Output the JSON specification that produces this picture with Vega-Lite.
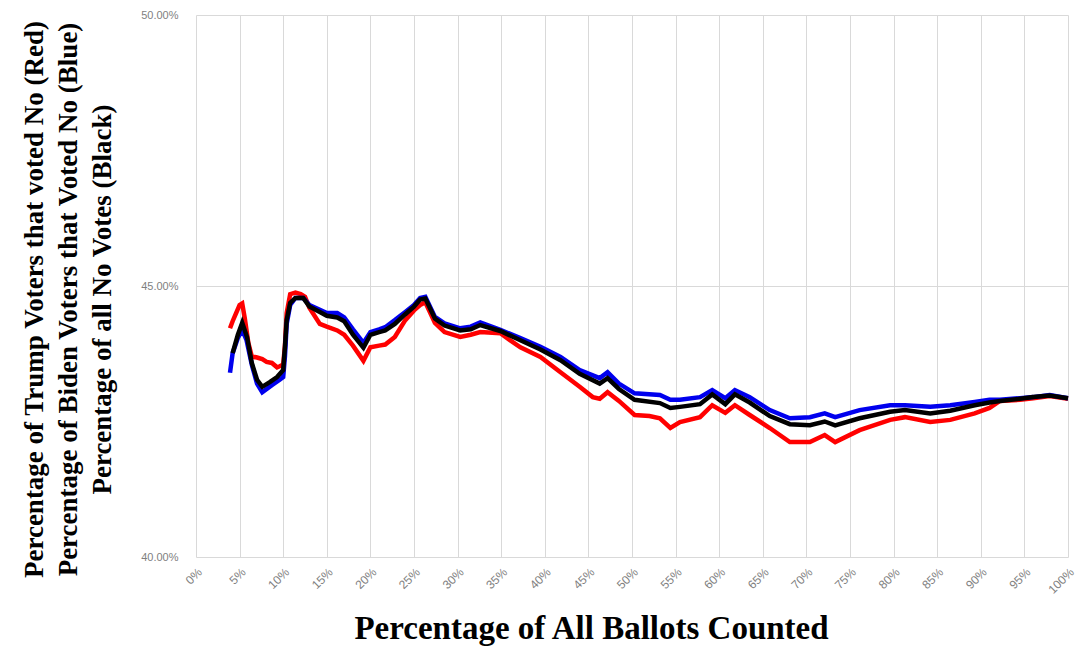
{
  "$schema": "https://vega.github.io/schema/vega-lite/v6.json",
  "width": 872,
  "height": 542,
  "autosize": {"type": "none"},
  "padding": {"left": 196, "top": 15, "right": 22, "bottom": 89},
  "background": "white",
  "config": {"view": {"stroke": null}},
  "datasets": {
    "pts": [
      {"s":"R","x":3.9,"v":44.22},{"s":"R","x":4.2,"v":44.35},{"s":"R","x":4.6,"v":44.5},{"s":"R","x":5.0,"v":44.65},{"s":"R","x":5.3,"v":44.68},{"s":"R","x":5.6,"v":44.4},{"s":"R","x":6.0,"v":43.95},{"s":"R","x":6.4,"v":43.7},{"s":"R","x":7.0,"v":43.68},{"s":"R","x":7.6,"v":43.65},{"s":"R","x":8.1,"v":43.6},{"s":"R","x":8.7,"v":43.58},{"s":"R","x":9.3,"v":43.5},{"s":"R","x":9.6,"v":43.52},{"s":"R","x":10.0,"v":43.55},{"s":"R","x":10.2,"v":43.9},{"s":"R","x":10.4,"v":44.5},{"s":"R","x":10.8,"v":44.85},{"s":"R","x":11.4,"v":44.88},{"s":"R","x":12.0,"v":44.85},{"s":"R","x":12.5,"v":44.8},{"s":"R","x":13.0,"v":44.6},{"s":"R","x":14.2,"v":44.3},{"s":"R","x":15,"v":44.25},{"s":"R","x":16.2,"v":44.18},{"s":"R","x":17,"v":44.1},{"s":"R","x":18,"v":43.9},{"s":"R","x":19.2,"v":43.62},{"s":"R","x":20,"v":43.87},{"s":"R","x":21,"v":43.9},{"s":"R","x":21.7,"v":43.92},{"s":"R","x":22.8,"v":44.06},{"s":"R","x":24,"v":44.37},{"s":"R","x":25,"v":44.55},{"s":"R","x":25.7,"v":44.65},{"s":"R","x":26.3,"v":44.7},{"s":"R","x":27.4,"v":44.32},{"s":"R","x":28.5,"v":44.15},{"s":"R","x":30.3,"v":44.06},{"s":"R","x":31.5,"v":44.1},{"s":"R","x":32.6,"v":44.15},{"s":"R","x":34.9,"v":44.13},{"s":"R","x":36,"v":44.0},{"s":"R","x":37.2,"v":43.87},{"s":"R","x":39.5,"v":43.69},{"s":"R","x":41.8,"v":43.41},{"s":"R","x":44,"v":43.14},{"s":"R","x":45.5,"v":42.95},{"s":"R","x":46.3,"v":42.92},{"s":"R","x":47.2,"v":43.04},{"s":"R","x":48.5,"v":42.88},{"s":"R","x":50.3,"v":42.62},{"s":"R","x":52,"v":42.6},{"s":"R","x":53.2,"v":42.56},{"s":"R","x":54.4,"v":42.38},{"s":"R","x":55.5,"v":42.49},{"s":"R","x":57.8,"v":42.58},{"s":"R","x":59.2,"v":42.8},{"s":"R","x":60.7,"v":42.66},{"s":"R","x":61.8,"v":42.8},{"s":"R","x":63.5,"v":42.62},{"s":"R","x":65.8,"v":42.38},{"s":"R","x":68.1,"v":42.12},{"s":"R","x":70.4,"v":42.12},{"s":"R","x":72.1,"v":42.25},{"s":"R","x":73.3,"v":42.12},{"s":"R","x":76.1,"v":42.34},{"s":"R","x":79.6,"v":42.53},{"s":"R","x":81.3,"v":42.58},{"s":"R","x":84.2,"v":42.49},{"s":"R","x":86.5,"v":42.53},{"s":"R","x":89.3,"v":42.65},{"s":"R","x":91,"v":42.75},{"s":"R","x":92.2,"v":42.88},{"s":"R","x":94.5,"v":42.9},{"s":"R","x":96,"v":42.93},{"s":"R","x":97.9,"v":42.97},{"s":"R","x":100,"v":42.92},

      {"s":"B","x":3.9,"v":43.4},{"s":"B","x":4.2,"v":43.76},{"s":"B","x":4.8,"v":44.04},{"s":"B","x":5.3,"v":44.19},{"s":"B","x":5.8,"v":44.0},{"s":"B","x":6.4,"v":43.55},{"s":"B","x":7.0,"v":43.2},{"s":"B","x":7.6,"v":43.04},{"s":"B","x":8.7,"v":43.17},{"s":"B","x":9.6,"v":43.27},{"s":"B","x":10.0,"v":43.32},{"s":"B","x":10.2,"v":43.7},{"s":"B","x":10.4,"v":44.3},{"s":"B","x":10.8,"v":44.65},{"s":"B","x":11.4,"v":44.78},{"s":"B","x":12.3,"v":44.78},{"s":"B","x":13,"v":44.65},{"s":"B","x":14.2,"v":44.56},{"s":"B","x":15,"v":44.5},{"s":"B","x":16.2,"v":44.5},{"s":"B","x":17,"v":44.42},{"s":"B","x":18,"v":44.2},{"s":"B","x":19.2,"v":43.95},{"s":"B","x":20,"v":44.15},{"s":"B","x":21,"v":44.2},{"s":"B","x":21.7,"v":44.24},{"s":"B","x":22.8,"v":44.37},{"s":"B","x":24,"v":44.52},{"s":"B","x":25,"v":44.65},{"s":"B","x":25.7,"v":44.78},{"s":"B","x":26.3,"v":44.8},{"s":"B","x":27.4,"v":44.43},{"s":"B","x":28.5,"v":44.31},{"s":"B","x":30.3,"v":44.22},{"s":"B","x":31.5,"v":44.25},{"s":"B","x":32.6,"v":44.33},{"s":"B","x":34.9,"v":44.19},{"s":"B","x":37.2,"v":44.04},{"s":"B","x":39.5,"v":43.88},{"s":"B","x":41.8,"v":43.69},{"s":"B","x":44,"v":43.45},{"s":"B","x":46.3,"v":43.3},{"s":"B","x":47.2,"v":43.41},{"s":"B","x":48.5,"v":43.2},{"s":"B","x":50.3,"v":43.02},{"s":"B","x":53.2,"v":42.99},{"s":"B","x":54.4,"v":42.9},{"s":"B","x":55.5,"v":42.9},{"s":"B","x":57.8,"v":42.95},{"s":"B","x":59.2,"v":43.08},{"s":"B","x":60.7,"v":42.93},{"s":"B","x":61.8,"v":43.08},{"s":"B","x":63.5,"v":42.95},{"s":"B","x":65.8,"v":42.71},{"s":"B","x":68.1,"v":42.56},{"s":"B","x":70.4,"v":42.58},{"s":"B","x":72.1,"v":42.65},{"s":"B","x":73.3,"v":42.58},{"s":"B","x":76.1,"v":42.71},{"s":"B","x":79.6,"v":42.8},{"s":"B","x":81.3,"v":42.8},{"s":"B","x":84.2,"v":42.77},{"s":"B","x":86.5,"v":42.8},{"s":"B","x":89.3,"v":42.86},{"s":"B","x":91,"v":42.9},{"s":"B","x":92.2,"v":42.9},{"s":"B","x":94.5,"v":42.93},{"s":"B","x":96,"v":42.95},{"s":"B","x":97.9,"v":42.99},{"s":"B","x":100,"v":42.93},

      {"s":"K","x":4.2,"v":43.76},{"s":"K","x":4.8,"v":44.1},{"s":"K","x":5.3,"v":44.32},{"s":"K","x":5.85,"v":44.06},{"s":"K","x":6.4,"v":43.58},{"s":"K","x":7.0,"v":43.27},{"s":"K","x":7.6,"v":43.14},{"s":"K","x":8.5,"v":43.23},{"s":"K","x":9.3,"v":43.32},{"s":"K","x":10.0,"v":43.45},{"s":"K","x":10.2,"v":43.87},{"s":"K","x":10.4,"v":44.37},{"s":"K","x":10.8,"v":44.69},{"s":"K","x":11.4,"v":44.78},{"s":"K","x":12.3,"v":44.78},{"s":"K","x":13,"v":44.62},{"s":"K","x":14.2,"v":44.52},{"s":"K","x":15,"v":44.45},{"s":"K","x":16.2,"v":44.42},{"s":"K","x":17,"v":44.35},{"s":"K","x":18,"v":44.1},{"s":"K","x":19.2,"v":43.86},{"s":"K","x":20,"v":44.1},{"s":"K","x":21,"v":44.15},{"s":"K","x":21.7,"v":44.18},{"s":"K","x":22.8,"v":44.3},{"s":"K","x":24,"v":44.48},{"s":"K","x":25,"v":44.62},{"s":"K","x":25.7,"v":44.75},{"s":"K","x":26.3,"v":44.77},{"s":"K","x":27.4,"v":44.4},{"s":"K","x":28.5,"v":44.27},{"s":"K","x":30.3,"v":44.18},{"s":"K","x":31.5,"v":44.2},{"s":"K","x":32.6,"v":44.28},{"s":"K","x":34.9,"v":44.17},{"s":"K","x":37.2,"v":44.0},{"s":"K","x":39.5,"v":43.83},{"s":"K","x":41.8,"v":43.63},{"s":"K","x":44,"v":43.38},{"s":"K","x":46.3,"v":43.2},{"s":"K","x":47.2,"v":43.3},{"s":"K","x":48.5,"v":43.1},{"s":"K","x":50.3,"v":42.9},{"s":"K","x":53.2,"v":42.84},{"s":"K","x":54.4,"v":42.75},{"s":"K","x":55.5,"v":42.77},{"s":"K","x":57.8,"v":42.82},{"s":"K","x":59.2,"v":43.0},{"s":"K","x":60.7,"v":42.82},{"s":"K","x":61.8,"v":43.0},{"s":"K","x":63.5,"v":42.85},{"s":"K","x":65.8,"v":42.6},{"s":"K","x":68.1,"v":42.45},{"s":"K","x":70.4,"v":42.43},{"s":"K","x":72.1,"v":42.5},{"s":"K","x":73.3,"v":42.43},{"s":"K","x":76.1,"v":42.56},{"s":"K","x":79.6,"v":42.68},{"s":"K","x":81.3,"v":42.71},{"s":"K","x":84.2,"v":42.65},{"s":"K","x":86.5,"v":42.7},{"s":"K","x":89.3,"v":42.8},{"s":"K","x":91,"v":42.85},{"s":"K","x":92.2,"v":42.88},{"s":"K","x":94.5,"v":42.92},{"s":"K","x":96,"v":42.95},{"s":"K","x":97.9,"v":42.98},{"s":"K","x":100,"v":42.93}
    ]
  },
  "data": {"name": "pts"},
  "encoding": {
    "x": {
      "field": "x", "type": "quantitative",
      "scale": {"domain": [0, 100], "nice": false},
      "axis": {
        "values": [0,5,10,15,20,25,30,35,40,45,50,55,60,65,70,75,80,85,90,95,100],
        "labelExpr": "datum.value + '%'",
        "labelAngle": -45,
        "labelPadding": 9,
        "labelFont": "Liberation Sans",
        "labelFontSize": 12,
        "labelColor": "#7f7f7f",
        "ticks": false,
        "domain": false,
        "grid": true,
        "gridColor": "#d9d9d9",
        "gridWidth": 1,
        "title": "Percentage of All Ballots Counted",
        "titleFont": "Liberation Serif",
        "titleFontSize": 33,
        "titleFontWeight": "bold",
        "titleColor": "#000000",
        "titleX": 395,
        "titleY": 81,
        "titleAlign": "center",
        "titleBaseline": "alphabetic"
      }
    },
    "y": {
      "field": "v", "type": "quantitative",
      "scale": {"domain": [40, 50], "nice": false, "zero": false},
      "axis": {
        "values": [40, 45, 50],
        "labelExpr": "format(datum.value, '.2f') + '%'",
        "labelPadding": 18,
        "labelFont": "Liberation Sans",
        "labelFontSize": 11,
        "labelColor": "#7f7f7f",
        "ticks": false,
        "domain": false,
        "grid": true,
        "gridColor": "#d9d9d9",
        "gridWidth": 1,
        "title": ["Percentage of Trump Voters that voted No (Red)", "Percentage of Biden Voters that Voted No (Blue)", "Percentage of all No Votes (Black)"],
        "titleFont": "Liberation Serif",
        "titleFontSize": 27,
        "titleFontWeight": "bold",
        "titleColor": "#000000",
        "titleLineHeight": 34,
        "titleX": -162,
        "titleY": 284,
        "titleAngle": -90,
        "titleAlign": "center",
        "titleBaseline": "middle"
      }
    }
  },
  "layer": [
    {
      "transform": [{"filter": "datum.s === 'R'"}],
      "mark": {"type": "line", "color": "#ff0000", "strokeWidth": 4.5},
      "encoding": {}
    },
    {
      "transform": [{"filter": "datum.s === 'B'"}],
      "mark": {"type": "line", "color": "#0000ee", "strokeWidth": 4.5},
      "encoding": {}
    },
    {
      "transform": [{"filter": "datum.s === 'K'"}],
      "mark": {"type": "line", "color": "#000000", "strokeWidth": 4.5},
      "encoding": {}
    }
  ]
}
